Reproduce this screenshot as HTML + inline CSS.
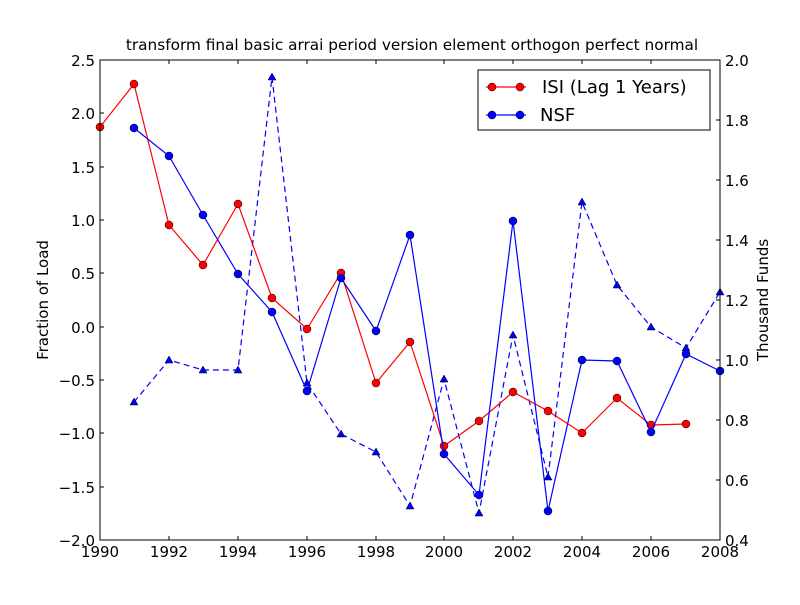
<!DOCTYPE html>
<html><head><meta charset="utf-8"><style>
html,body{margin:0;padding:0;background:#fff;}
text{font-family:"DejaVu Sans","Liberation Sans",sans-serif;}
</style></head><body>
<svg width="800" height="600" xmlns="http://www.w3.org/2000/svg">
<rect width="800" height="600" fill="#fff"/>
<text x="412" y="50" font-size="15.3" text-anchor="middle">transform final basic arrai period version element orthogon perfect normal</text>
<polyline fill="none" stroke="#0000ff" stroke-width="1.2" stroke-dasharray="6,4" points="134,402 169,360 203,370 238,370 272,77 307,383 341,434 376,452 410,506 444,379 479,513 513,335 548,477 582,202 617,285 651,327 686,348 720,292"/>
<g fill="#0000ff" stroke="#000" stroke-width="0.5">
<path d="M134,398l4,7h-8z"/><path d="M169,356l4,7h-8z"/><path d="M203,366l4,7h-8z"/><path d="M238,366l4,7h-8z"/><path d="M272,73l4,7h-8z"/><path d="M307,379l4,7h-8z"/><path d="M341,430l4,7h-8z"/><path d="M376,448l4,7h-8z"/><path d="M410,502l4,7h-8z"/><path d="M444,375l4,7h-8z"/><path d="M479,509l4,7h-8z"/><path d="M513,331l4,7h-8z"/><path d="M548,473l4,7h-8z"/><path d="M582,198l4,7h-8z"/><path d="M617,281l4,7h-8z"/><path d="M651,323l4,7h-8z"/><path d="M686,344l4,7h-8z"/><path d="M720,288l4,7h-8z"/>
</g>
<polyline fill="none" stroke="#ff0000" stroke-width="1.2" points="100,127 134,84 169,225 203,265 238,204 272,298 307,329 341,273 376,383 410,342 444,446 479,421 513,392 548,411 582,433 617,398 651,425 686,424"/>
<g fill="#ff0000" stroke="#000" stroke-width="0.5">
<circle cx="100" cy="127" r="4"/><circle cx="134" cy="84" r="4"/><circle cx="169" cy="225" r="4"/><circle cx="203" cy="265" r="4"/><circle cx="238" cy="204" r="4"/><circle cx="272" cy="298" r="4"/><circle cx="307" cy="329" r="4"/><circle cx="341" cy="273" r="4"/><circle cx="376" cy="383" r="4"/><circle cx="410" cy="342" r="4"/><circle cx="444" cy="446" r="4"/><circle cx="479" cy="421" r="4"/><circle cx="513" cy="392" r="4"/><circle cx="548" cy="411" r="4"/><circle cx="582" cy="433" r="4"/><circle cx="617" cy="398" r="4"/><circle cx="651" cy="425" r="4"/><circle cx="686" cy="424" r="4"/>
</g>
<polyline fill="none" stroke="#0000ff" stroke-width="1.2" points="134,128 169,156 203,215 238,274 272,312 307,391 341,278 376,331 410,235 444,454 479,495 513,221 548,511 582,360 617,361 651,432 686,354 720,371"/>
<g fill="#0000ff" stroke="#000" stroke-width="0.5">
<circle cx="134" cy="128" r="4"/><circle cx="169" cy="156" r="4"/><circle cx="203" cy="215" r="4"/><circle cx="238" cy="274" r="4"/><circle cx="272" cy="312" r="4"/><circle cx="307" cy="391" r="4"/><circle cx="341" cy="278" r="4"/><circle cx="376" cy="331" r="4"/><circle cx="410" cy="235" r="4"/><circle cx="444" cy="454" r="4"/><circle cx="479" cy="495" r="4"/><circle cx="513" cy="221" r="4"/><circle cx="548" cy="511" r="4"/><circle cx="582" cy="360" r="4"/><circle cx="617" cy="361" r="4"/><circle cx="651" cy="432" r="4"/><circle cx="686" cy="354" r="4"/><circle cx="720" cy="371" r="4"/>
</g>
<rect x="100" y="60" width="620" height="480" fill="none" stroke="#000" stroke-width="1"/>
<g stroke="#000" stroke-width="1">
<path d="M100,540v-4M100,60v4M169,540v-4M169,60v4M238,540v-4M238,60v4M307,540v-4M307,60v4M376,540v-4M376,60v4M444,540v-4M444,60v4M513,540v-4M513,60v4M582,540v-4M582,60v4M651,540v-4M651,60v4M720,540v-4M720,60v4"/>
<path d="M100,60h4M100,113h4M100,167h4M100,220h4M100,273h4M100,327h4M100,380h4M100,433h4M100,487h4M100,540h4"/>
<path d="M720,60h-4M720,120h-4M720,180h-4M720,240h-4M720,300h-4M720,360h-4M720,420h-4M720,480h-4M720,540h-4"/>
</g>
<g font-size="15" text-anchor="middle">
<text x="100" y="557">1990</text><text x="169" y="557">1992</text><text x="238" y="557">1994</text><text x="307" y="557">1996</text><text x="376" y="557">1998</text><text x="444" y="557">2000</text><text x="513" y="557">2002</text><text x="582" y="557">2004</text><text x="651" y="557">2006</text><text x="720" y="557">2008</text>
</g>
<g font-size="15" text-anchor="end">
<text x="95" y="66">2.5</text><text x="95" y="119">2.0</text><text x="95" y="173">1.5</text><text x="95" y="226">1.0</text><text x="95" y="279">0.5</text><text x="95" y="333">0.0</text><text x="95" y="386">−0.5</text><text x="95" y="439">−1.0</text><text x="95" y="493">−1.5</text><text x="95" y="546">−2.0</text>
</g>
<g font-size="15">
<text x="725" y="66">2.0</text><text x="725" y="126">1.8</text><text x="725" y="186">1.6</text><text x="725" y="246">1.4</text><text x="725" y="306">1.2</text><text x="725" y="366">1.0</text><text x="725" y="426">0.8</text><text x="725" y="486">0.6</text><text x="725" y="546">0.4</text>
</g>
<text transform="translate(48,300) rotate(-90)" font-size="15" text-anchor="middle">Fraction of Load</text>
<text transform="translate(768,300) rotate(-90)" font-size="15" text-anchor="middle">Thousand Funds</text>
<rect x="478" y="70" width="232" height="60" fill="#fff" stroke="#000" stroke-width="1"/>
<line x1="486" y1="87" x2="526" y2="87" stroke="#ff0000" stroke-width="1.2"/>
<circle cx="492" cy="87" r="4" fill="#ff0000" stroke="#000" stroke-width="0.5"/>
<circle cx="520" cy="87" r="4" fill="#ff0000" stroke="#000" stroke-width="0.5"/>
<text x="542" y="93" font-size="18">ISI (Lag 1 Years)</text>
<line x1="486" y1="115" x2="526" y2="115" stroke="#0000ff" stroke-width="1.2"/>
<circle cx="492" cy="115" r="4" fill="#0000ff" stroke="#000" stroke-width="0.5"/>
<circle cx="520" cy="115" r="4" fill="#0000ff" stroke="#000" stroke-width="0.5"/>
<text x="540" y="121" font-size="18">NSF</text>
</svg>
</body></html>
